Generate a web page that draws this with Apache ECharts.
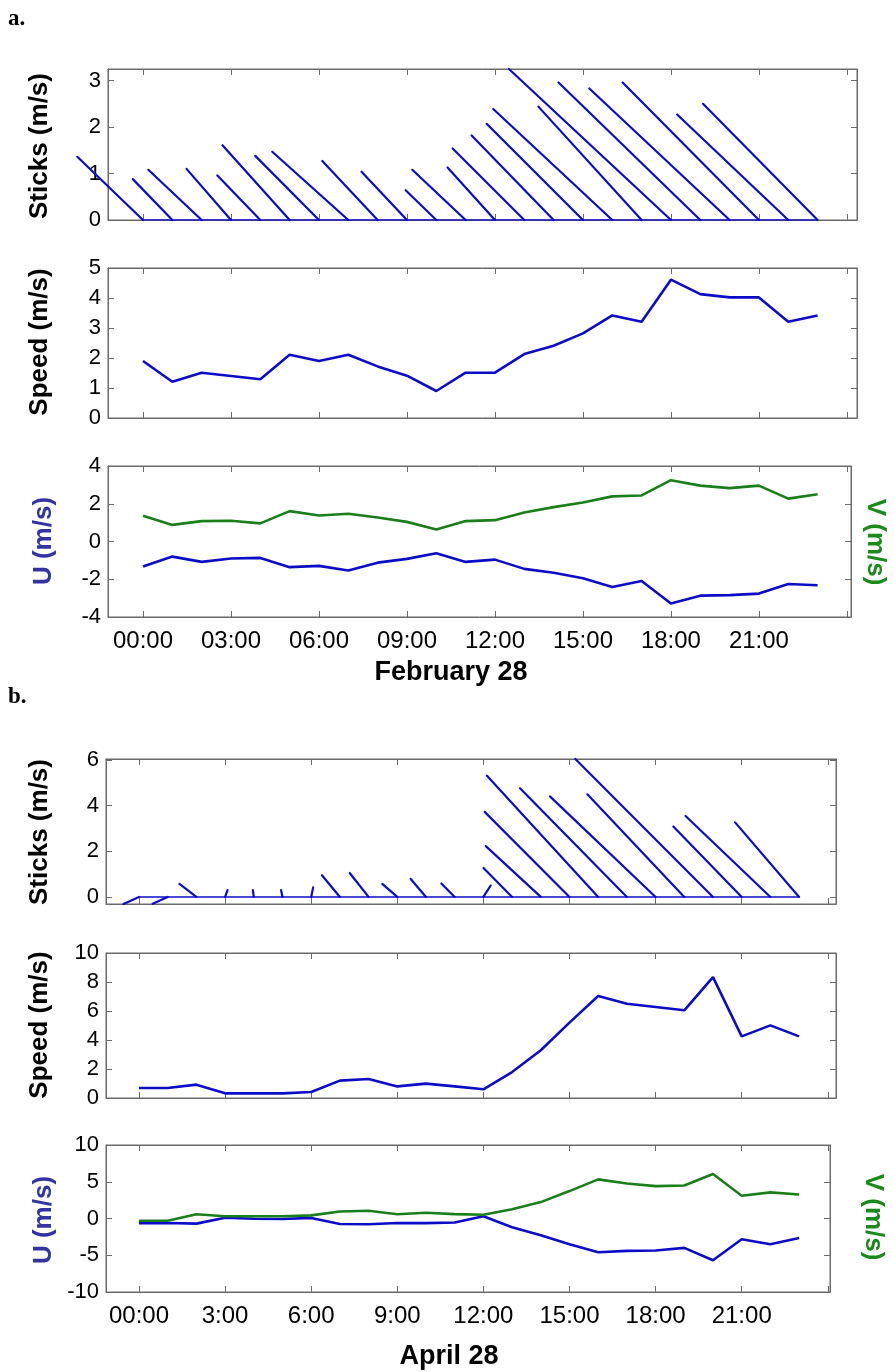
<!DOCTYPE html>
<html><head><meta charset="utf-8">
<script src="https://cdn.jsdelivr.net/npm/echarts@6/dist/echarts.min.js"></script>
<style>html,body{margin:0;padding:0;background:#fff}#c{width:894px;height:1372px}</style>
</head><body><div id="c"></div>
<script>
// ---------------- data ----------------
const hours = [0,1,2,3,4,5,6,7,8,9,10,11,12,13,14,15,16,17,18,19,20,21,22,23];
// February 28
const uA = [-1.33,-0.80,-1.08,-0.90,-0.87,-1.36,-1.29,-1.54,-1.12,-0.92,-0.62,-1.08,-0.96,-1.45,-1.66,-1.95,-2.41,-2.09,-3.28,-2.87,-2.84,-2.76,-2.25,-2.32];
const vA = [1.36,0.88,1.08,1.10,0.96,1.61,1.38,1.47,1.27,1.04,0.64,1.08,1.13,1.54,1.82,2.07,2.39,2.44,3.25,2.96,2.83,2.96,2.27,2.50];
const speedA = [1.90,1.21,1.51,1.40,1.29,2.11,1.90,2.11,1.72,1.41,0.90,1.51,1.51,2.13,2.41,2.82,3.42,3.21,4.61,4.13,4.02,4.02,3.21,3.42];
// April 28
const uB = [-0.64,-0.62,-0.70,0.10,-0.04,-0.06,0.08,-0.74,-0.78,-0.62,-0.63,-0.55,0.30,-1.18,-2.27,-3.50,-4.59,-4.41,-4.36,-4.00,-5.68,-2.82,-3.50,-2.64];
const vB = [-0.31,-0.30,0.57,0.30,0.30,0.30,0.42,0.95,1.05,0.57,0.79,0.59,0.50,1.27,2.23,3.73,5.32,4.77,4.41,4.50,6.05,3.09,3.55,3.27];
const speedB = [0.69,0.69,0.92,0.32,0.32,0.32,0.41,1.20,1.31,0.80,0.99,0.80,0.60,1.79,3.29,5.20,7.03,6.50,6.28,6.05,8.34,4.25,5.01,4.25];
// ticks
const xTickHours = [0,3,6,9,12,15,18,21,24];
const xLabelHours = [0,3,6,9,12,15,18,21];
const xLabelsA = ['00:00','03:00','06:00','09:00','12:00','15:00','18:00','21:00'];
const xLabelsB = ['00:00','3:00','6:00','9:00','12:00','15:00','18:00','21:00'];
const yTicksStickA = [0,1,2,3];
const yTicksSpeedA = [0,1,2,3,4,5];
const yTicksUVA = [-4,-2,0,2,4];
const yTicksStickB = [0,2,4,6];
const yTicksSpeedB = [0,2,4,6,8,10];
const yTicksUVB = [-10,-5,0,5,10];
const dateA = 'February 28';
const dateB = 'April 28';

// ---------------- style / layout ----------------
const BLUE = '#0c0cc8';
const GREEN = '#1a7f1a';
const UCOL = '#3333a3';
const VCOL = '#1a8a1a';
const BOX = '#6a6a6a';
const FONT = 'Liberation Sans, Arial, Helvetica, sans-serif';
const STICK_ASPECT = 1.063;

const panels = [
  { x0:143, pxh:29.33, u:uA, v:vA, speed:speedA, labels:xLabelsA,
    grids:[
      {l:108,t:69,r:857,b:220, ymin:0, ymax:3.25, ticks:yTicksStickA, kind:'stick'},
      {l:108,t:268,r:857,b:418, ymin:0, ymax:5, ticks:yTicksSpeedA, kind:'speed'},
      {l:108,t:466,r:851,b:617, ymin:-4, ymax:4, ticks:yTicksUVA, kind:'uv'}
    ]},
  { x0:139, pxh:28.7, u:uB, v:vB, speed:speedB, labels:xLabelsB,
    grids:[
      {l:106,t:759,r:836,b:904, ymin:-0.31, ymax:6.05, ticks:yTicksStickB, kind:'stick'},
      {l:106,t:953,r:836,b:1098, ymin:0, ymax:10, ticks:yTicksSpeedB, kind:'speed'},
      {l:106,t:1145,r:830,b:1292, ymin:-10, ymax:10, ticks:yTicksUVB, kind:'uv'}
    ]}
];

const grid=[], xAxis=[], yAxis=[], series=[];
panels.forEach(p=>{
  p.grids.forEach(g=>{
    const gi = grid.length;
    grid.push({left:g.l, top:g.t, width:g.r-g.l, height:g.b-g.t, containLabel:false, outerBoundsMode:'none',
      show:true, borderColor:BOX, borderWidth:1, backgroundColor:'transparent'});
    const xmin=(g.l-p.x0)/p.pxh, xmax=(g.r-p.x0)/p.pxh;
    const xb = xAxis.length;
    const isUV = g.kind==='uv';
    xAxis.push({type:'value', gridIndex:gi, min:xmin, max:xmax, position:'bottom',
      axisLine:{show:true,onZero:false,lineStyle:{color:BOX,width:1}},
      axisTick:{show:true,inside:true,length:6,customValues:xTickHours,lineStyle:{color:BOX}},
      axisLabel:{show:isUV, customValues:xLabelHours, margin:12, color:'#000', fontSize:24, fontFamily:FONT,
        formatter:v=>p.labels[xLabelHours.indexOf(Math.round(v))]||''},
      splitLine:{show:false}});
    xAxis.push({type:'value', gridIndex:gi, min:xmin, max:xmax, position:'top',
      axisLine:{show:true,onZero:false,lineStyle:{color:BOX,width:1}},
      axisTick:{show:true,inside:true,length:6,customValues:xTickHours,lineStyle:{color:BOX}},
      axisLabel:{show:false}, splitLine:{show:false}});
    const yl = yAxis.length;
    yAxis.push({type:'value', gridIndex:gi, min:g.ymin, max:g.ymax, position:'left',
      axisLine:{show:true,onZero:false,lineStyle:{color:BOX,width:1}},
      axisTick:{show:true,inside:true,length:6,customValues:g.ticks,lineStyle:{color:BOX}},
      axisLabel:{show:true,customValues:g.ticks,margin:7,color:'#000',fontSize:22,fontFamily:FONT},
      splitLine:{show:false}});
    yAxis.push({type:'value', gridIndex:gi, min:g.ymin, max:g.ymax, position:'right',
      axisLine:{show:true,onZero:false,lineStyle:{color:BOX,width:1}},
      axisTick:{show:true,inside:true,length:6,customValues:g.ticks,lineStyle:{color:BOX}},
      axisLabel:{show:false}, splitLine:{show:false}});

    if(g.kind==='stick'){
      series.push({type:'line', xAxisIndex:xb, yAxisIndex:yl, data:[[hours[0],0],[hours[hours.length-1],0]],
        symbol:'none', silent:true, lineStyle:{color:BLUE,width:1.6}});
      series.push({type:'custom', xAxisIndex:xb, yAxisIndex:yl, clip:false, silent:true,
        data: hours.map((h,k)=>[h,p.u[k],p.v[k]]), encode:{x:0,y:2},
        renderItem:(params,api)=>{
          const h=api.value(0), u=api.value(1), v=api.value(2);
          const base=api.coord([h,0]);
          const unit=base[1]-api.coord([h,1])[1];
          const tip=[base[0]+u*unit*STICK_ASPECT, api.coord([h,v])[1]];
          return {type:'line', shape:{x1:base[0],y1:base[1],x2:tip[0],y2:tip[1]},
            style:{stroke:BLUE,lineWidth:2.2,lineCap:'round'}};
        }});
    } else if(g.kind==='speed'){
      series.push({type:'line', xAxisIndex:xb, yAxisIndex:yl, data:hours.map((h,k)=>[h,p.speed[k]]),
        symbol:'none', silent:true, lineStyle:{color:BLUE,width:2.6}});
    } else {
      series.push({type:'line', xAxisIndex:xb, yAxisIndex:yl, data:hours.map((h,k)=>[h,p.u[k]]),
        symbol:'none', silent:true, lineStyle:{color:BLUE,width:2.6}});
      series.push({type:'line', xAxisIndex:xb, yAxisIndex:yl+1, data:hours.map((h,k)=>[h,p.v[k]]),
        symbol:'none', silent:true, lineStyle:{color:GREEN,width:2.6}});
    }
  });
});

function vtext(text,x,y,color,rot,size){
  return {type:'text', x:x, y:y, rotation:rot, silent:true,
    style:{text:text, fill:color, font:'bold '+(size||26)+'px '+FONT, align:'center', verticalAlign:'middle'}};
}
const graphic=[
  {type:'text', left:8, top:8, style:{text:'a.', fill:'#000', font:'bold 23px Liberation Serif, Times New Roman, serif'}},
  {type:'text', left:8, top:686, style:{text:'b.', fill:'#000', font:'bold 23px Liberation Serif, Times New Roman, serif'}},
  vtext('Sticks (m/s)',40,146,'#000',Math.PI/2),
  vtext('Speed (m/s)',40,342,'#000',Math.PI/2),
  vtext('U (m/s)',44,541,UCOL,Math.PI/2),
  vtext('V (m/s)',875,542,VCOL,-Math.PI/2),
  vtext('Sticks (m/s)',40,832,'#000',Math.PI/2),
  vtext('Speed (m/s)',40,1025,'#000',Math.PI/2),
  vtext('U (m/s)',44,1220,UCOL,Math.PI/2),
  vtext('V (m/s)',873,1217,VCOL,-Math.PI/2),
  vtext(dateA,451,673,'#000',0,27),
  vtext(dateB,449,1357,'#000',0,27)
];

const chart = echarts.init(document.getElementById('c'), null, {renderer:'canvas'});
chart.setOption({animation:false, backgroundColor:'#fff', grid, xAxis, yAxis, series, graphic});
</script></body></html>
